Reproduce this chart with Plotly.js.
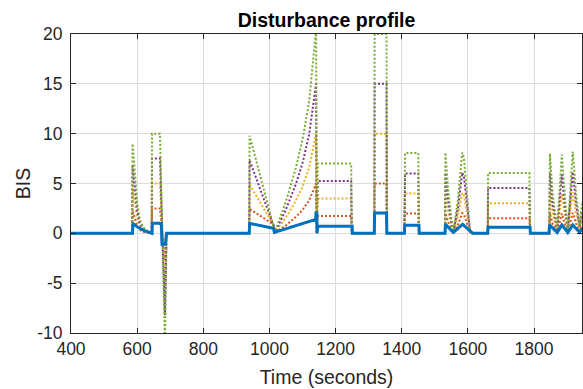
<!DOCTYPE html>
<html>
<head>
<meta charset="utf-8">
<script src="https://cdn.plot.ly/plotly-3.0.1.min.js"></script>
<style>html,body{margin:0;padding:0;background:#fff;}#chart{width:583px;height:389px;}</style>
</head>
<body>
<div id="chart"></div>
<script>
// Solid blue series (time in seconds, BIS)
var tBlue = [400,586,587,600,620,640,645,646,668,673,675,685,689,939,940,1012,1015,1140,1140.5,1143,1144,1146,1250,1251,1317,1318,1354,1355,1408,1409,1452,1453,1531,1532,1556,1584,1612,1615,1660,1661,1788,1789,1845,1847,1870,1884,1902,1917,1938,1945];
var blue  = [0,0,1.0,0.65,0.3,0.08,0,1.0,1.0,0.9,-1.1,-1.1,0,0,1.0,0.5,0.1,1.4,2.05,2.05,0,0.7,0.7,0,0,2.05,2.05,0,0,0.8,0.8,0,0,0.9,0.1,0.9,0.05,0,0,0.62,0.62,0,0,0.85,0.08,0.85,0.08,0.85,0.1,0.5];

// Dotted series share one time axis
var tDot = [400,585,586,593,600,608,618,632,644,645,669,684,689,939,940,1012,1018,1050,1080,1100,1120,1141,1143,1146,1247,1249,1317,1318,1354,1355,1408,1410,1450,1452,1531,1532,1540,1550,1557,1570,1583,1588,1597,1606,1612,1660,1661,1786,1788,1846,1848,1856,1870,1884,1893,1902,1917,1927,1938,1945];
var orange = [0,0,2.25,1.5,0.78,0.35,0.15,0.05,0,2.5,2.5,-2.7,0,0,2.45,0.9,0.1,0.8,1.65,2.35,3.3,5,0,1.75,1.75,0,0,5,5,0,0,2,2,0,0,2.03,1.13,0.38,0.1,0.85,2.03,1.9,1.0,0.13,0,0,1.51,1.51,0,0,2,1,0.13,1.98,0.95,0.1,2.05,1,0.2,0.75];
var yellow = [0,0,4.5,3.05,1.55,0.7,0.3,0.1,0,5,5,-5.5,0,0,4.9,0.85,0.15,1.6,3.3,4.7,6.6,10,0,3.5,3.5,0,0,10,10,0,0,4,4,0,0,4.05,2.25,0.75,0.2,1.7,4.05,3.8,2.0,0.25,0,0,3.03,3.03,0,0,4,2,0.25,3.95,1.9,0.2,4.1,2,0.4,1.5];
var purple = [0,0,6.75,4.6,2.3,1.05,0.45,0.15,0,7.5,7.5,-8.2,0,0,7.35,0.8,0.2,2.4,4.95,7.05,9.9,15,0,5.25,5.25,0,0,15,15,0,0,6,6,0,0,6.08,3.38,1.13,0.3,2.55,6.08,5.7,3.0,0.38,0,0,4.54,4.54,0,0,6,3,0.38,5.93,2.85,0.3,6.15,3,0.6,2.25];
var green  = [0,0,9.0,6.1,3.1,1.4,0.6,0.2,0,10,10,-11,0,0,9.8,0.75,0.25,3.2,6.6,9.4,13.2,20.5,0,7,7,0,0,20,20,0,0,8.05,8.05,0,0,8.1,4.5,1.5,0.4,3.4,8.1,7.6,4.0,0.5,0,0,6.05,6.05,0,0,8,4,0.5,7.9,3.8,0.4,8.2,4,0.8,3.0];

var xTicks = [400,600,800,1000,1200,1400,1600,1800];
var yTicks = [-10,-5,0,5,10,15,20];

var FONT = 'Liberation Sans, Arial, Helvetica, sans-serif';
function dotted(y, color) {
  return {x: tDot, y: y, type: 'scatter', mode: 'lines',
          line: {color: color, width: 2, dash: '2px,2px'}, hoverinfo: 'skip'};
}
var traces = [
  dotted(orange, '#D95319'),
  dotted(yellow, '#EDB120'),
  dotted(purple, '#7E2F8E'),
  dotted(green, '#77AC30'),
  {x: tBlue, y: blue, type: 'scatter', mode: 'lines',
   line: {color: '#0072BD', width: 3}, hoverinfo: 'skip'}
];

var axisCommon = {
  ticks: 'inside', ticklen: 5, tickwidth: 1, tickcolor: '#262626',
  showline: true, linecolor: '#262626', linewidth: 1, mirror: 'ticks',
  showgrid: true, gridcolor: '#dcdcdc', gridwidth: 1, zeroline: false,
  tickfont: {family: FONT, size: 17.5, color: '#262626'}
};

var layout = {
  width: 583, height: 389,
  margin: {l: 71, r: 1, t: 34, b: 56},
  paper_bgcolor: '#ffffff', plot_bgcolor: '#ffffff',
  showlegend: false,
  title: {text: '<b>Disturbance profile</b>', font: {family: FONT, size: 19.5, color: '#000000'},
          x: 0.5, xref: 'paper', xanchor: 'center', y: 1 - 20/389, yref: 'container', yanchor: 'middle'},
  xaxis: Object.assign({}, axisCommon, {
    range: [400, 1945], tickvals: xTicks, ticktext: xTicks.map(String),
    title: {text: 'Time (seconds)', font: {family: FONT, size: 19.5, color: '#262626'}, standoff: 12}
  }),
  yaxis: Object.assign({}, axisCommon, {
    range: [-10, 20], tickvals: yTicks, ticktext: yTicks.map(String), ticklabelstandoff: 4,
    title: {text: 'BIS', font: {family: FONT, size: 19.5, color: '#262626'}, standoff: 1}
  })
};

Plotly.newPlot('chart', traces, layout, {staticPlot: true, displayModeBar: false});
</script>
</body>
</html>
